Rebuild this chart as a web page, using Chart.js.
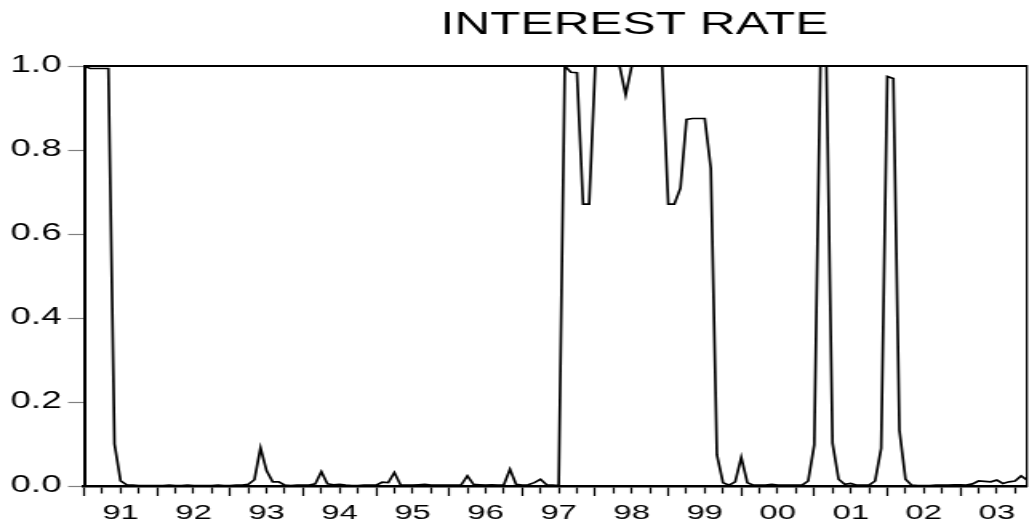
<!DOCTYPE html>
<html>
<head>
<meta charset="utf-8">
<script src="https://cdn.jsdelivr.net/npm/chart.js@4.4.1/dist/chart.umd.min.js"></script>
<style>
  html, body { margin: 0; padding: 0; background: #fff; overflow: hidden; }
  /* the original graph is stretched sideways, so the whole chart is drawn narrow and widened */
  #wrap { width: 643px; height: 526px; transform: scaleX(1.6003); transform-origin: 0 0; }
</style>
</head>
<body>
<div id="wrap"><canvas id="rate-chart" width="643" height="526"></canvas></div>
<script>
const yearLabels = ['91', '92', '93', '94', '95', '96', '97', '98', '99', '00', '01', '02', '03'];
const yTicks = [0.0, 0.2, 0.4, 0.6, 0.8, 1.0];

// monthly values, Jan..Dec of each year
const rates1991 = [1.0, 0.994, 0.994, 0.994, 0.994, 0.100, 0.012, 0.003, 0.002, 0.001, 0.001, 0.001];
const rates1992 = [0.001, 0.001, 0.002, 0.001, 0.001, 0.002, 0.001, 0.001, 0.001, 0.001, 0.002, 0.001];
const rates1993 = [0.001, 0.002, 0.002, 0.004, 0.015, 0.091, 0.036, 0.010, 0.010, 0.002, 0.001, 0.002];
const rates1994 = [0.002, 0.002, 0.005, 0.034, 0.005, 0.003, 0.004, 0.002, 0.001, 0.001, 0.002, 0.002];
const rates1995 = [0.002, 0.009, 0.008, 0.032, 0.003, 0.002, 0.002, 0.003, 0.004, 0.002, 0.002, 0.002];
const rates1996 = [0.002, 0.002, 0.003, 0.024, 0.004, 0.003, 0.002, 0.003, 0.002, 0.003, 0.040, 0.004];
const rates1997 = [0.002, 0.003, 0.008, 0.016, 0.003, 0.002, 0.001, 1.0, 0.985, 0.984, 0.671, 0.671];
const rates1998 = [1.0, 1.0, 1.0, 1.0, 1.0, 0.931, 1.0, 1.0, 1.0, 1.0, 1.0, 1.0];
const rates1999 = [0.671, 0.671, 0.709, 0.873, 0.875, 0.875, 0.875, 0.756, 0.074, 0.008, 0.002, 0.010];
const rates2000 = [0.068, 0.008, 0.002, 0.002, 0.002, 0.004, 0.002, 0.002, 0.002, 0.002, 0.002, 0.012];
const rates2001 = [0.098, 1.0, 1.0, 0.102, 0.016, 0.004, 0.006, 0.002, 0.002, 0.002, 0.012, 0.090];
const rates2002 = [0.975, 0.970, 0.132, 0.016, 0.002, 0.001, 0.001, 0.001, 0.002, 0.002, 0.002, 0.003];
const rates2003 = [0.003, 0.002, 0.005, 0.012, 0.011, 0.010, 0.014, 0.006, 0.010, 0.012, 0.024, 0.014];

const rates = [].concat(rates1991, rates1992, rates1993, rates1994, rates1995, rates1996, rates1997,
                        rates1998, rates1999, rates2000, rates2001, rates2002, rates2003);
const lastIdx = rates.length - 1;

const FONT = "'Liberation Sans', Arial, sans-serif";

// title sits right of centre in the original
const shiftTitle = {
  id: 'shiftTitle',
  afterLayout(chart) {
    const t = chart.titleBlock;
    if (!t) return;
    t.left += 75;
    t.right += 75;
  }
};

new Chart(document.getElementById('rate-chart'), {
  type: 'line',
  data: {
    datasets: [{
      data: rates.map((v, i) => ({ x: i, y: v })),
      borderColor: '#000',
      borderWidth: 1.7,
      pointRadius: 0,
      tension: 0,
      fill: false
    }]
  },
  options: {
    responsive: false,
    animation: false,
    layout: { padding: 0 },
    plugins: {
      legend: { display: false },
      tooltip: { enabled: false },
      title: {
        display: true,
        text: 'INTEREST RATE',
        color: '#000',
        font: { family: FONT, size: 31, weight: 'normal', lineHeight: 1.2 },
        padding: { top: 7, bottom: 21.8 }
      }
    },
    scales: {
      x: {
        type: 'linear',
        position: 'bottom',
        min: 0,
        max: lastIdx,
        afterBuildTicks: s => {
          const t = [];
          for (let v = 0; v <= lastIdx; v += 3) t.push({ value: v });
          s.ticks = t;
        },
        ticks: {
          autoSkip: false,
          maxRotation: 0,
          color: '#000',
          padding: 5,
          font: { family: FONT, size: 20.5 },
          callback: v => (v % 12 === 6 ? yearLabels[(v - 6) / 12] : '')
        },
        grid: {
          drawOnChartArea: false,
          tickLength: 10,
          tickColor: '#000',
          tickWidth: 1.25,
          // quarter ticks are shorter than year ticks
          tickBorderDash: ctx => (ctx.tick && ctx.tick.value % 12 === 0 ? [] : [6, 30])
        },
        border: { color: '#000', width: 2.5 },
        afterFit: s => { s.height = 40; }
      },
      x2: {
        type: 'linear',
        position: 'top',
        ticks: { display: false },
        grid: { drawOnChartArea: false, drawTicks: false },
        border: { color: '#000', width: 2 },
        afterFit: s => { s.height = 0; }
      },
      y: {
        min: 0,
        max: 1,
        position: 'left',
        afterBuildTicks: s => { s.ticks = yTicks.map(v => ({ value: v })); },
        ticks: {
          color: '#000',
          padding: 4,
          font: { family: FONT, size: 23 },
          callback: v => Number(v).toFixed(1)
        },
        grid: { drawOnChartArea: false, tickLength: 10, tickColor: '#808080', tickWidth: 1.2 },
        border: { color: '#000', width: 2 },
        afterFit: s => { s.width = 52.5; }
      },
      y2: {
        position: 'right',
        ticks: { display: false },
        grid: { drawOnChartArea: false, drawTicks: false },
        border: { color: '#000', width: 1.25 },
        afterFit: s => { s.width = 1.1; }
      }
    }
  },
  plugins: [shiftTitle]
});
</script>
</body>
</html>
